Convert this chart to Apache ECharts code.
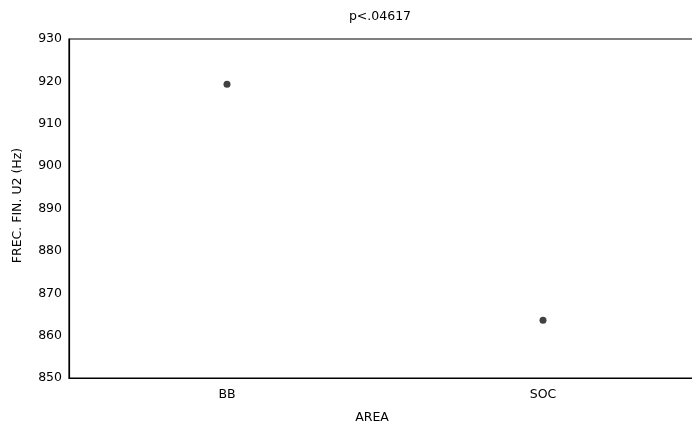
<!DOCTYPE html>
<html>
<head>
<meta charset="utf-8">
<script src="https://cdn.jsdelivr.net/npm/echarts@6/dist/echarts.min.js"></script>
<style>
  html, body { margin: 0; padding: 0; background: #fff; }
  #chart { width: 692px; height: 426px; }
</style>
</head>
<body>
<div id="chart"></div>
<script>
// Mean final frequency of U2 per area
const areas = ['BB', 'SOC'];
const freqMeans = [919.3, 863.6];
const yTicks = [850, 860, 870, 880, 890, 900, 910, 920, 930];
const titleText = 'p<.04617';

const chart = echarts.init(document.getElementById('chart'));
const font = 'DejaVu Sans, Arial, sans-serif';

chart.setOption({
  animation: false,
  title: {
    text: titleText,
    left: 375,
    top: 5,
    textAlign: 'center',
    textStyle: { fontFamily: font, fontSize: 12.5, fontWeight: 'normal', color: '#000' }
  },
  grid: {
    left: 69,
    top: 39,
    width: 632,
    height: 339,
    outerBoundsMode: 'none',
    show: true,
    borderColor: '#000',
    borderWidth: 1.2,
    backgroundColor: '#fff'
  },
  xAxis: {
    type: 'category',
    data: areas,
    name: 'AREA',
    nameLocation: 'middle',
    nameGap: 33,
    nameTextStyle: { fontFamily: font, fontSize: 12.5, color: '#000', padding: [0, 26, 0, 0] },
    axisLine: { lineStyle: { color: '#000', width: 1.2 } },
    axisTick: { show: false },
    axisLabel: { fontFamily: font, fontSize: 12.5, color: '#000', margin: 10 },
    splitLine: { show: false }
  },
  yAxis: {
    type: 'value',
    min: yTicks[0],
    max: yTicks[yTicks.length - 1],
    interval: 10,
    name: 'FREC. FIN. U2 (Hz)',
    nameLocation: 'middle',
    nameGap: 45,
    nameTextStyle: { fontFamily: font, fontSize: 12.5, color: '#000', padding: [0, 0, 0, 6] },
    axisLine: { show: true, lineStyle: { color: '#000', width: 1.2 } },
    axisTick: { show: false },
    axisLabel: { fontFamily: font, fontSize: 12.5, color: '#000', margin: 7 },
    splitLine: { show: false }
  },
  series: [{
    type: 'scatter',
    data: freqMeans,
    symbol: 'circle',
    symbolSize: 7,
    itemStyle: { color: '#111' }
  }]
});
</script>
</body>
</html>
